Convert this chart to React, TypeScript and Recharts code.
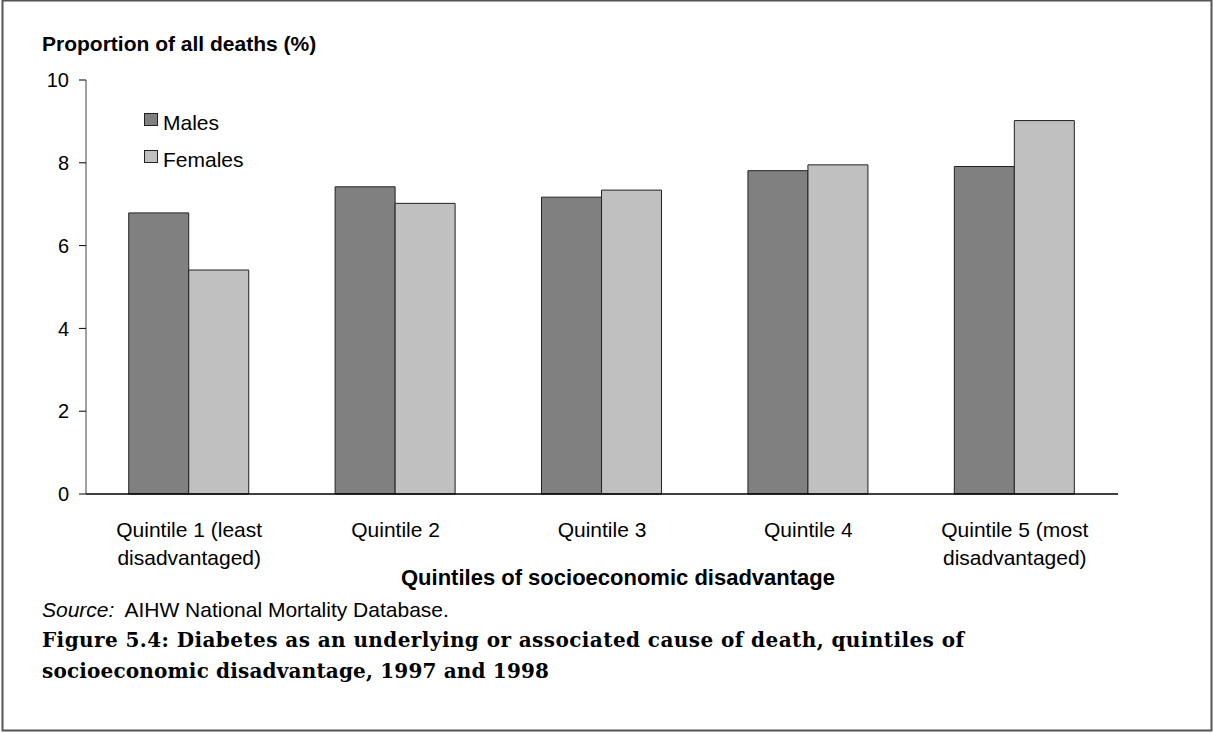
import React from "react";
import { BarChart, Bar, XAxis, YAxis, Legend, Label } from "recharts";

const categories = [
  "Quintile 1 (least disadvantaged)",
  "Quintile 2",
  "Quintile 3",
  "Quintile 4",
  "Quintile 5 (most disadvantaged)",
];
const categoryLines: string[][] = [
  ["Quintile 1 (least", "disadvantaged)"],
  ["Quintile 2"],
  ["Quintile 3"],
  ["Quintile 4"],
  ["Quintile 5 (most", "disadvantaged)"],
];
const seriesNames = ["Males", "Females"];
const males = [6.79, 7.42, 7.17, 7.81, 7.91];
const females = [5.41, 7.02, 7.34, 7.95, 9.02];
const yTicks = [0, 2, 4, 6, 8, 10];

const data = categories.map((name, i) => ({ name, males: males[i], females: females[i] }));

const SANS = "'Liberation Sans', Arial, sans-serif";
const SERIF = "'DejaVu Serif', serif";

const CategoryTick = (props: any) => {
  const { x, y, payload } = props;
  const idx = categories.indexOf(payload.value);
  const lines = categoryLines[idx] || [payload.value];
  return (
    <g>
      {lines.map((ln, i) => (
        <text key={i} x={x} y={y + 43 + i * 27.5} textAnchor="middle" fontSize={21} fontFamily={SANS} fill="#000">
          {ln}
        </text>
      ))}
    </g>
  );
};

const LegendContent = (props: any) => {
  const items = [...(props.payload || [])].sort(
    (a: any, b: any) => seriesNames.indexOf(a.value) - seriesNames.indexOf(b.value)
  );
  return (
    <svg width={160} height={70} style={{ display: "block" }}>
      {items.map((p: any, i: number) => (
        <g key={i}>
          <rect x={0.5} y={5.5 + i * 37} width={13} height={12} fill={p.color} stroke="#222" strokeWidth={1} />
          <text x={19} y={22 + i * 37} fontSize={21} fontFamily={SANS} fill="#000">
            {p.value}
          </text>
        </g>
      ))}
    </svg>
  );
};

export default function App() {
  return (
    <div style={{ position: "absolute", left: 0, top: 0, width: 1213, height: 733, background: "#fff" }}>
      <svg width={1213} height={733} style={{ position: "absolute", left: 0, top: 0 }}>
        <rect x={2.5} y={0.5} width={1209} height={730} fill="#fff" stroke="#555" strokeWidth={2} />
        <text x={42} y={617} fontSize={21} fontFamily={SANS} fill="#000">
          <tspan fontStyle="italic">Source:</tspan>
          <tspan dx={10}>AIHW National Mortality Database.</tspan>
        </text>
        <text x={42} y={647} fontSize={20} fontWeight="bold" fontFamily={SERIF} fill="#000" textLength={922} lengthAdjust="spacing">
          Figure 5.4: Diabetes as an underlying or associated cause of death, quintiles of
        </text>
        <text x={42} y={678} fontSize={20} fontWeight="bold" fontFamily={SERIF} fill="#000" textLength={507} lengthAdjust="spacing">
          socioeconomic disadvantage, 1997 and 1998
        </text>
      </svg>
      <div style={{ position: "absolute", left: 0, top: 0 }}>
        <BarChart
          width={1213}
          height={733}
          data={data}
          margin={{ top: 80, right: 95, left: 36, bottom: 209 }}
          barCategoryGap="20.7%"
          barGap={0}
        >
          <XAxis
            dataKey="name"
            height={30}
            tickLine={false}
            tickSize={0}
            tickMargin={0}
            axisLine={{ stroke: "#000", strokeWidth: 1.5 }}
            tick={<CategoryTick />}
            interval={0}
          >
            <Label
              content={() => (
                <text x={618} y={585} textAnchor="middle" fontSize={22} fontWeight="bold" fontFamily={SANS} fill="#000">
                  Quintiles of socioeconomic disadvantage
                </text>
              )}
            />
          </XAxis>
          <YAxis
            width={50}
            domain={[0, 10]}
            ticks={yTicks}
            interval={0}
            tickSize={7}
            tickMargin={10}
            axisLine={{ stroke: "#444", strokeWidth: 1 }}
            tickLine={{ stroke: "#000", strokeWidth: 1 }}
            tick={{ fontSize: 20, fontFamily: SANS, fill: "#000" }}
          >
            <Label
              content={() => (
                <text x={42} y={51} fontSize={21} fontWeight="bold" fontFamily={SANS} fill="#000">
                  Proportion of all deaths (%)
                </text>
              )}
            />
          </YAxis>
          <Legend
            layout="vertical"
            align="center"
            verticalAlign="middle"
            content={<LegendContent />}
            wrapperStyle={{ position: "absolute", left: 144, top: 108, width: 160, height: 70 }}
          />
          <Bar dataKey="males" name="Males" fill="#808080" stroke="#222" strokeWidth={1} isAnimationActive={false} />
          <Bar dataKey="females" name="Females" fill="#c0c0c0" stroke="#222" strokeWidth={1} isAnimationActive={false} />
        </BarChart>
      </div>
    </div>
  );
}
